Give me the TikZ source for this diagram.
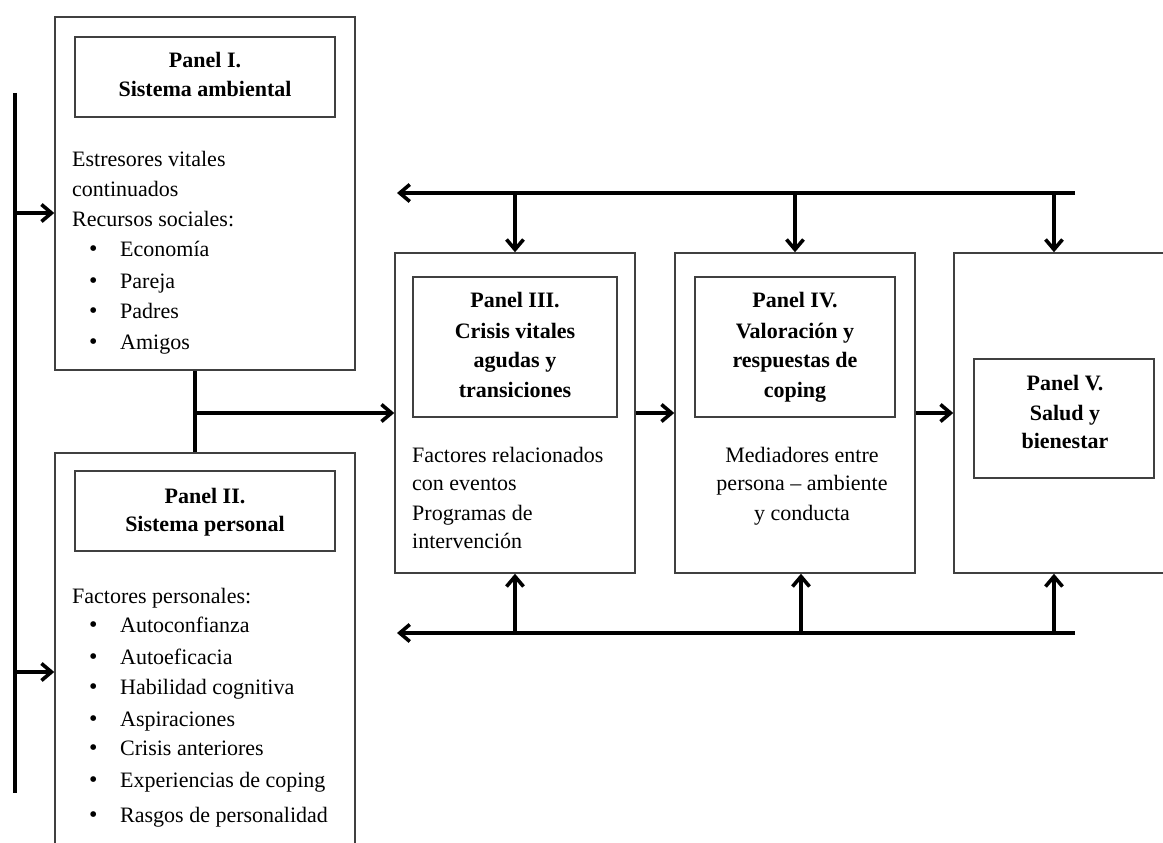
\documentclass[tikz,border=0pt]{standalone}
\usepackage{fontspec}
\setmainfont{Liberation Serif}
\usetikzlibrary{arrows.meta}
\newcommand{\bul}{\makebox[31pt][l]{\raisebox{-0.5pt}{\fontsize{24}{26}\selectfont•}}}
\begin{document}
\begin{tikzpicture}[x=1pt,y=-1pt,
  box/.style={draw=black!75, line width=1.5pt, inner sep=0, fill=none},
  lnL/.style={anchor=base west, inner sep=0, font=\fontsize{22}{26}\selectfont},
  lnC/.style={anchor=base, inner sep=0, font=\fontsize{22}{26}\selectfont},
  ttl/.style={anchor=base, inner sep=0, font=\fontsize{22}{26}\selectfont\bfseries},
  conn/.style={line width=3.6pt},
  arr/.style={conn, -{Straight Barb[length=10pt,width=17pt]}}]
\useasboundingbox (0,0) rectangle (1163,843);
\fill[white] (0,0) rectangle (1163,843);
\clip (0,0) rectangle (1163,843);

% outer panels
\node[box, minimum width=300pt, minimum height=353pt] (p1) at (205,193.5) {};
\node[box, minimum width=300pt, minimum height=417pt] (p2) at (205,661.5) {};
\node[box, minimum width=240pt, minimum height=320pt] (p3) at (515,413) {};
\node[box, minimum width=240pt, minimum height=320pt] (p4) at (795,413) {};
\node[box, minimum width=246pt, minimum height=320pt] (p5) at (1077,413) {};
% title boxes
\node[box, minimum width=260pt, minimum height=80pt] (p1t) at (205,77) {};
\node[box, minimum width=260pt, minimum height=80pt] (p2t) at (205,511) {};
\node[box, minimum width=204pt, minimum height=140pt] (p3t) at (515,347) {};
\node[box, minimum width=200pt, minimum height=140pt] (p4t) at (795,347) {};
\node[box, minimum width=180pt, minimum height=119pt] (p5t) at (1064,418.5) {};

% titles
\node[ttl] (t1a) at (205,68) {Panel I.};
\node[ttl] (t1b) at (205,97) {Sistema ambiental};
\node[ttl] (t2a) at (205,503) {Panel II.};
\node[ttl] (t2b) at (205,531) {Sistema personal};
\node[ttl] (t3a) at (515,307) {Panel III.};
\node[ttl] (t3b) at (515,338) {Crisis vitales};
\node[ttl] (t3c) at (515,367) {agudas y};
\node[ttl] (t3d) at (515,397) {transiciones};
\node[ttl] (t4a) at (795,307) {Panel IV.};
\node[ttl] (t4b) at (795,338) {Valoración y};
\node[ttl] (t4c) at (795,367) {respuestas de};
\node[ttl] (t4d) at (795,397) {coping};
\node[ttl] (t5a) at (1065,390) {Panel V.};
\node[ttl] (t5b) at (1065,420) {Salud y};
\node[ttl] (t5c) at (1065,448) {bienestar};

% panel I body
\node[lnL] (a1) at (72,166) {Estresores vitales};
\node[lnL] (a2) at (72,196) {continuados};
\node[lnL] (a3) at (72,226) {Recursos sociales:};
\node[lnL] (a4) at (89,256) {\bul Economía};
\node[lnL] (a5) at (89,288) {\bul Pareja};
\node[lnL] (a6) at (89,318) {\bul Padres};
\node[lnL] (a7) at (89,349) {\bul Amigos};

% panel II body
\node[lnL] (b1) at (72,603) {Factores personales:};
\node[lnL] (b2) at (89,632) {\bul Autoconfianza};
\node[lnL] (b3) at (89,664) {\bul Autoeficacia};
\node[lnL] (b4) at (89,694) {\bul Habilidad cognitiva};
\node[lnL] (b5) at (89,726) {\bul Aspiraciones};
\node[lnL] (b6) at (89,755) {\bul Crisis anteriores};
\node[lnL] (b7) at (89,787) {\bul Experiencias de coping};
\node[lnL] (b8) at (89,822) {\bul Rasgos de personalidad};

% panel III body
\node[lnL] (c1) at (412,462) {Factores relacionados};
\node[lnL] (c2) at (412,490) {con eventos};
\node[lnL] (c3) at (412,520) {Programas de};
\node[lnL] (c4) at (412,548) {intervención};

% panel IV body
\node[lnC] (d1) at (802,462) {Mediadores entre};
\node[lnC] (d2) at (802,490) {persona – ambiente};
\node[lnC] (d3) at (802,520) {y conducta};

% left bus
\coordinate (lb1) at (15,93);
\coordinate (lb2) at (15,793);
\coordinate (la1) at (15,213);
\coordinate (la2) at (15,672);
\draw[conn] (lb1) -- (lb2);
\draw[arr] (la1) -- (la1 -| p1.west);
\draw[arr] (la2) -- (la2 -| p2.west);

% panel I/II junction to panel III
\coordinate (j1) at (195,413);
\draw[conn] (p1.south -| j1) -- (p2.north -| j1);
\draw[arr] (j1) -- (j1 -| p3.west);
\draw[arr] (p3) -- (p4);
\draw[arr] (p4) -- (p5);

% top feedback bus
\coordinate (tr) at (1075,193);
\coordinate (tl) at (397,193);
\coordinate (dn5) at (1054,193);
\draw[arr] (tr) -- (tl);
\draw[arr] (tl -| p3.north) -- (p3.north);
\draw[arr] (tl -| p4.north) -- (p4.north);
\draw[arr] (dn5) -- (dn5 |- p5.north);

% bottom feedback bus
\coordinate (br) at (1075,633);
\coordinate (bl) at (397,633);
\coordinate (up4) at (801,633);
\coordinate (up5) at (1054,633);
\draw[arr] (br) -- (bl);
\draw[arr] (bl -| p3.south) -- (p3.south);
\draw[arr] (up4) -- (up4 |- p4.south);
\draw[arr] (up5) -- (up5 |- p5.south);
\end{tikzpicture}
\end{document}
